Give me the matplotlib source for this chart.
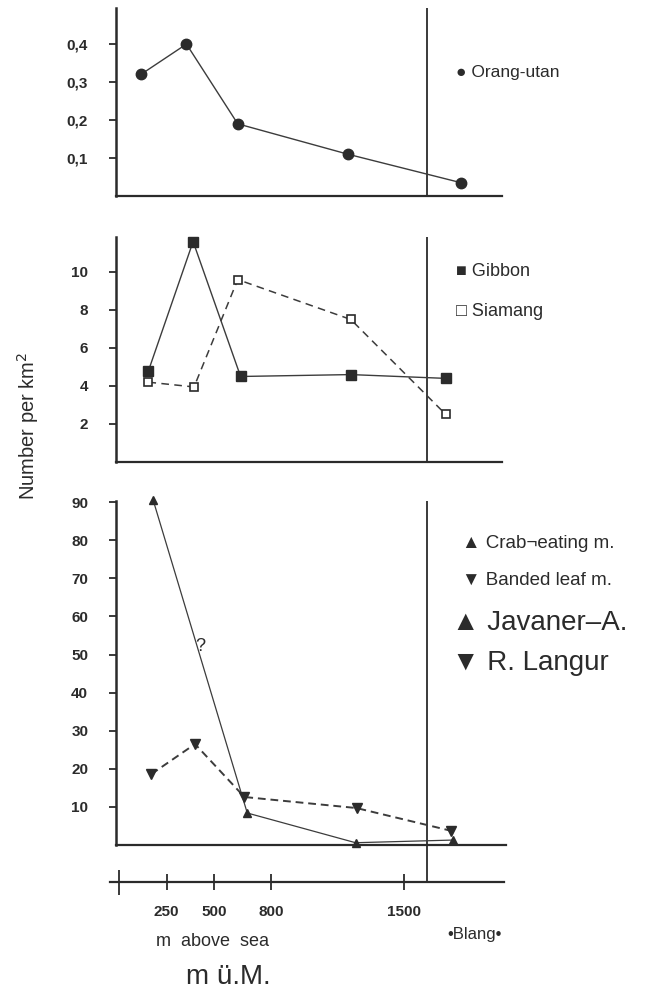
import matplotlib
matplotlib.use('Agg')
import matplotlib.pyplot as plt

plt.rcParams['font.family'] = ['Liberation Sans', 'DejaVu Sans']

# Data: altitude (m above sea) and number per km2
orang_alt = [115, 355, 625, 1205, 1800]
orang = [0.32, 0.40, 0.19, 0.11, 0.035]

gibbon_alt = [155, 390, 640, 1220, 1720]
gibbon = [4.8, 11.6, 4.5, 4.6, 4.4]
siamang_alt = [155, 395, 625, 1220, 1720]
siamang = [4.2, 3.95, 9.6, 7.5, 2.5]

crab_alt = [180, 675, 1245, 1760]
crab = [90.5, 8.4, 0.6, 1.3]
leaf_alt = [170, 400, 660, 1250, 1750]
leaf = [18.6, 26.5, 12.6, 9.7, 3.7]

blang_alt = 1620
alt_ticks = [250, 500, 800, 1500]

# layout helpers (pixels of the 646x991 picture)
W, H = 646, 991
PX0, PXM = 119, 0.19   # pixel of 0 m, pixels per metre
INK = '#2b2b2b'
LINE = '#3c3c3c'

fig = plt.figure(figsize=(W / 100, H / 100), dpi=100)


def add_panel(l, r, t, b, ymax):
    ax = fig.add_axes([l / W, 1 - b / H, (r - l) / W, (b - t) / H])
    ax.set_xlim((l - PX0) / PXM, (r - PX0) / PXM)
    ax.set_ylim(0, ymax)
    for s in ('top', 'right'):
        ax.spines[s].set_visible(False)
    ax.spines['left'].set_linewidth(1.8)
    ax.spines['bottom'].set_linewidth(1.6)
    ax.spines['left'].set_color(INK)
    ax.spines['bottom'].set_color(INK)
    ax.set_xticks([])
    ax.tick_params(axis='y', direction='out', length=5, width=1.3, pad=15,
                   labelsize=11, colors=INK)
    ax.axvline(blang_alt, color=INK, lw=1.3)
    return ax


def bold_labels(ax):
    for lab in ax.get_yticklabels():
        lab.set_fontweight('bold')


# Panel 1: Orang-utan
ax1 = add_panel(116, 502, 8, 196, 0.495)
ax1.plot(orang_alt, orang, color=LINE, lw=1.0, marker='o', ms=7.5,
         mfc=INK, mec=INK, clip_on=False)
ax1.set_yticks([0.1, 0.2, 0.3, 0.4])
ax1.set_yticklabels(['0,1', '0,2', '0,3', '0,4'])
bold_labels(ax1)

# Panel 2: Gibbon, Siamang
ax2 = add_panel(116, 502, 237, 462, 11.84)
ax2.plot(gibbon_alt, gibbon, color=LINE, lw=1.0, marker='s', ms=6.5,
         mfc=INK, mec=INK, clip_on=False)
ax2.plot(siamang_alt, siamang, color=LINE, lw=1.1, ls=(0, (5, 3.5)),
         marker='s', ms=6, mfc='white', mec=INK, mew=1.2, clip_on=False)
ax2.set_yticks([2, 4, 6, 8, 10])
bold_labels(ax2)

# Panel 3: Crab-eating macaque, Banded leaf monkey
ax3 = add_panel(116, 506, 501, 845, 90.3)
ax3.plot(crab_alt, crab, color=LINE, lw=0.9, marker='^', ms=6,
         mfc=INK, mec=INK, clip_on=False)
ax3.plot(leaf_alt, leaf, color=LINE, lw=1.4, ls=(0, (4, 2.5)),
         marker='v', ms=7, mfc=INK, mec=INK, clip_on=False)
ax3.set_yticks([10, 20, 30, 40, 50, 60, 70, 80, 90])
bold_labels(ax3)
ax3.text(426, 52, '?', fontsize=13, ha='center', va='center', color=INK)

# Altitude scale
axa = fig.add_axes([110 / W, 1 - 882 / H, (504 - 110) / W, (882 - 845) / H])
axa.set_xlim((110 - PX0) / PXM, (504 - PX0) / PXM)
axa.set_ylim(0, 1)
for s in ('top', 'right', 'left'):
    axa.spines[s].set_visible(False)
axa.spines['bottom'].set_linewidth(1.6)
axa.spines['bottom'].set_color(INK)
axa.patch.set_alpha(0)
axa.set_yticks([])
axa.axvline(blang_alt, color=INK, lw=1.3)
axa.set_xticks(alt_ticks)
axa.set_xticklabels([str(v) for v in alt_ticks])
axa.set_xticks([0], minor=True)
axa.tick_params(axis='x', which='major', direction='inout', length=11,
                width=1.3, pad=11, labelsize=11, colors=INK)
axa.tick_params(axis='x', which='minor', direction='inout', length=18,
                width=1.3, colors=INK)
for lab in axa.get_xticklabels():
    lab.set_fontweight('bold')


def ftext(x, y, s, **kw):
    kw.setdefault('color', INK)
    kw.setdefault('va', 'center')
    fig.text(x / W, 1 - y / H, s, **kw)


# legends
ftext(456, 73, '\u25CF Orang-utan', fontsize=12.5)
ftext(456, 272, '\u25A0 Gibbon', fontsize=13)
ftext(456, 311, '\u25A1 Siamang', fontsize=13)
ftext(462, 543, '\u25B2 Crab\u00ACeating m.', fontsize=13.5)
ftext(462, 580, '\u25BC Banded leaf m.', fontsize=13.5)
ftext(452, 623, '\u25B2 Javaner\u2013A.', fontsize=20)
ftext(452, 663, '\u25BC R. Langur', fontsize=20)

# axis titles
ftext(28, 426, 'Number per km$^2$', fontsize=14.5, rotation=90, ha='center')
ftext(213, 941, 'm  above  sea', fontsize=13, ha='center')
ftext(475, 935, '\u2022Blang\u2022', fontsize=12, ha='center')
ftext(228, 977, 'm \u00FC.M.', fontsize=20, ha='center')

fig.savefig('out.png', dpi=100, facecolor='white')
